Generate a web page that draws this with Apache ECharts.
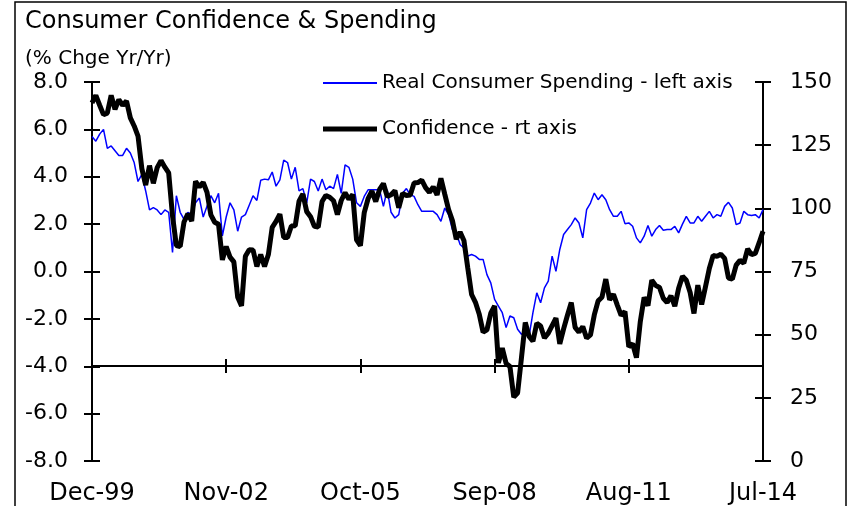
<!DOCTYPE html>
<html>
<head>
<meta charset="utf-8">
<script src="https://cdn.jsdelivr.net/npm/echarts@6/dist/echarts.min.js"></script>
<style>
html,body{margin:0;padding:0;background:#fff;}
#chart{width:850px;height:506px;}
</style>
</head>
<body>
<div id="chart"></div>
<script>
// ---- data ----
const monthNames = ['Jan','Feb','Mar','Apr','May','Jun','Jul','Aug','Sep','Oct','Nov','Dec'];
const startYear = 1999, startMonth = 11, monthCount = 176; // Dec-99 .. Jul-14
const categories = [];
for (let k = 0; k < monthCount; k++) {
  const m = (startMonth + k) % 12;
  const y = startYear + Math.floor((startMonth + k) / 12);
  categories.push(monthNames[m] + '-' + String(y % 100).padStart(2, '0'));
}

const spending = [
  5.7, 5.5, 5.8, 6.0, 5.2, 5.3, 5.1, 4.9, 4.9, 5.2, 5.0, 4.6,
  3.8, 4.1, 3.4, 2.6, 2.7, 2.6, 2.4, 2.6, 2.5, 0.8, 3.2, 2.5,
  2.2, 2.5, 2.4, 2.9, 3.1, 2.3, 2.75, 3.2, 2.9, 3.3, 1.5, 2.3,
  2.9, 2.6, 1.7, 2.3, 2.4, 2.8, 3.2, 3.0, 3.85, 3.9, 3.87, 4.2,
  3.6, 3.87, 4.7, 4.6, 3.9, 4.4, 3.4, 3.5, 2.9, 3.9, 3.8, 3.4,
  3.9, 3.45, 3.6, 3.5, 4.1, 3.3, 4.5, 4.4, 3.9, 2.9, 2.75, 3.17,
  3.45, 3.45, 3.45, 3.45, 2.75, 3.45, 2.5, 2.26, 2.4, 3.3, 3.5, 3.24,
  3.17, 2.82, 2.54, 2.54, 2.54, 2.54, 2.4, 2.12, 2.68, 2.4, 1.77, 1.63,
  1.14, 0.99, 0.65, 0.72, 0.65, 0.51, 0.51, -0.13, -0.48, -1.18, -1.46, -1.74,
  -2.37, -1.88, -1.95, -2.44, -2.65, -2.58, -2.72, -1.74, -0.9, -1.32, -0.69, -0.41,
  0.65, 0.01, 0.93, 1.56, 1.77, 1.98, 2.26, 2.05, 1.42, 2.61, 2.89, 3.31,
  3.03, 3.24, 3.03, 2.61, 2.33, 2.33, 2.54, 2.02, 2.05, 1.91, 1.42, 1.21,
  1.49, 1.94, 1.49, 1.77, 1.94, 1.74, 1.77, 1.77, 1.91, 1.63, 2.0, 2.33,
  2.05, 2.05, 2.33, 2.12, 2.33, 2.54, 2.26, 2.40, 2.33, 2.75, 2.92, 2.68,
  1.98, 2.05, 2.54, 2.40, 2.36, 2.40, 2.26, 2.61
];

const confidence = [
  141.7,
  144.7, 140.8, 137.1, 137.7, 144.7, 139.2, 143.0, 140.8, 142.5, 135.8, 132.6, 128.6,
  115.7, 109.2, 116.9, 109.9, 116.1, 118.9, 116.3, 114.0, 97.0, 85.3, 84.9, 94.6,
  97.8, 95.0, 110.7, 108.5, 110.3, 106.3, 97.4, 94.5, 93.7, 79.6, 84.9, 80.7,
  78.8, 64.8, 61.4, 81.0, 83.6, 83.5, 77.0, 81.7, 77.0, 81.7, 92.5, 94.8,
  97.7, 88.5, 88.5, 93.0, 93.1, 102.8, 105.7, 98.7, 96.7, 92.9, 92.6, 102.7,
  105.1, 104.4, 103.0, 97.5, 103.1, 106.2, 103.6, 105.5, 87.5, 85.2, 98.3, 103.8,
  106.8, 102.7, 107.5, 109.8, 104.7, 105.4, 107.0, 100.2, 105.9, 105.1, 105.3, 110.0,
  110.2, 111.2, 108.2, 106.3, 108.5, 105.3, 111.9, 105.6, 99.5, 95.2, 87.8, 90.6,
  87.3, 76.4, 65.9, 62.8, 58.1, 51.0, 51.9, 58.5, 61.4, 38.8, 44.7, 38.6,
  37.4, 25.3, 26.9, 40.8, 54.8, 49.3, 47.4, 54.5, 53.4, 48.7, 50.6, 53.6,
  56.5, 46.4, 52.3, 57.7, 62.7, 52.9, 51.0, 53.2, 48.6, 49.9, 57.8, 63.4,
  64.8, 72.0, 63.8, 66.0, 61.7, 57.6, 59.2, 45.2, 46.4, 40.9, 55.2, 64.8,
  61.5, 71.6, 69.5, 68.7, 64.4, 62.7, 65.4, 61.3, 68.4, 73.1, 71.5, 66.7,
  58.4, 69.6, 61.9, 69.0, 76.2, 81.4, 81.0, 81.8, 80.2, 72.4, 72.0, 77.5,
  79.4, 78.3, 83.9, 81.7, 82.2, 86.4, 90.9
];

const titleText = 'Consumer Confidence & Spending';
const unitText = '(% Chge Yr/Yr)';
const seriesNames = ['Real Consumer Spending - left axis', 'Confidence - rt axis'];

// ---- chart ----
const FONT = 'DejaVu Sans';
const chart = echarts.init(document.getElementById('chart'), null, {renderer: 'canvas'});
const tickStyle = {color: '#000', width: 2};
const xOffset = -95;

const legendBase = {
  orient: 'vertical', left: 323, padding: 0,
  itemWidth: 54, icon: 'rect',
  textStyle: {fontFamily: FONT, fontSize: 20, color: '#000'}
};

const option = {
  animation: false,
  backgroundColor: '#fff',
  title: [
    {text: titleText, left: 20, top: 5, textStyle: {fontFamily: FONT, fontSize: 24, fontWeight: 'normal', color: '#000'}},
    {text: unitText, left: 20, top: 44, textStyle: {fontFamily: FONT, fontSize: 20, fontWeight: 'normal', color: '#000'}}
  ],
  legend: [
    Object.assign({}, legendBase, {top: 73, itemHeight: 2, data: [seriesNames[0]]}),
    Object.assign({}, legendBase, {top: 119, itemHeight: 5, data: [seriesNames[1]]})
  ],
  graphic: [
    {type: 'rect', shape: {x: 15, y: 2, width: 831, height: 530}, style: {fill: 'none', stroke: '#000', lineWidth: 1.5}, silent: true, z: 0}
  ],
  grid: {left: 92, right: 87, top: 82, bottom: 44},
  xAxis: [
    {type: 'category', data: categories, boundaryGap: false, position: 'bottom',
     axisLine: {show: false, onZero: false}, axisTick: {show: false}, splitLine: {show: false},
     axisLabel: {interval: 34, margin: 21, fontFamily: FONT, fontSize: 24, color: '#000'}},
    {type: 'category', data: categories, boundaryGap: false, position: 'bottom', offset: xOffset,
     axisLine: {show: true, onZero: false, lineStyle: {color: '#000', width: 2}},
     axisTick: {show: true, interval: 34, length: 7, lineStyle: tickStyle},
     axisLabel: {show: false}, splitLine: {show: false}},
    {type: 'category', data: categories, boundaryGap: false, position: 'bottom', offset: xOffset,
     axisLine: {show: false, onZero: false},
     axisTick: {show: true, inside: true, interval: 34, length: 7, lineStyle: tickStyle},
     axisLabel: {show: false}, splitLine: {show: false}}
  ],
  yAxis: [
    {type: 'value', position: 'left', min: -8, max: 8, interval: 2,
     axisLine: {show: true, onZero: false, lineStyle: {color: '#000', width: 2}},
     axisTick: {show: true, length: 8, lineStyle: tickStyle},
     splitLine: {show: false},
     axisLabel: {margin: 24, fontFamily: FONT, fontSize: 22, color: '#000', formatter: v => v.toFixed(1)}},
    {type: 'value', position: 'right', min: 0, max: 150, interval: 25,
     axisLine: {show: true, onZero: false, lineStyle: {color: '#000', width: 2}},
     axisTick: {show: true, length: 8, lineStyle: tickStyle},
     splitLine: {show: false},
     axisLabel: {margin: 27, fontFamily: FONT, fontSize: 22, color: '#000'}},
    {type: 'value', position: 'left', min: -8, max: 8, interval: 2,
     axisLine: {show: false, onZero: false}, axisTick: {show: true, inside: true, length: 8, lineStyle: tickStyle},
     splitLine: {show: false}, axisLabel: {show: false}},
    {type: 'value', position: 'right', min: 0, max: 150, interval: 25,
     axisLine: {show: false, onZero: false}, axisTick: {show: true, inside: true, length: 8, lineStyle: tickStyle},
     splitLine: {show: false}, axisLabel: {show: false}}
  ],
  series: [
    {name: seriesNames[0], type: 'line', xAxisIndex: 0, yAxisIndex: 0, data: spending,
     symbol: 'none', lineStyle: {color: '#0000FF', width: 1.5}, itemStyle: {color: '#0000FF'}, z: 3},
    {name: seriesNames[1], type: 'line', xAxisIndex: 0, yAxisIndex: 1, data: confidence,
     symbol: 'none', lineStyle: {color: '#000000', width: 5}, itemStyle: {color: '#000000'}, z: 4}
  ]
};
chart.setOption(option);
</script>
</body>
</html>
